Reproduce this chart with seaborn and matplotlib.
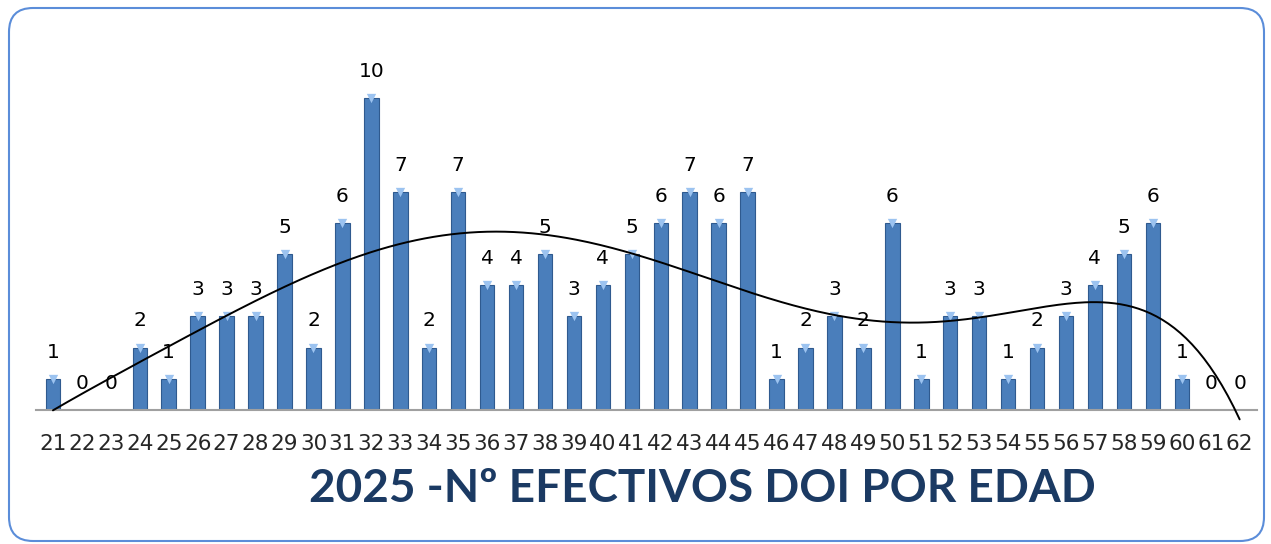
import numpy as np
import seaborn as sns
import matplotlib.pyplot as plt
from matplotlib.patches import FancyBboxPatch
from matplotlib.transforms import IdentityTransform

ages = list(range(21, 63))
efectivos = [1, 0, 0, 2, 1, 3, 3, 3, 5, 2, 6, 10, 7, 2, 7, 4, 4, 5, 3, 4, 5,
             6, 7, 6, 7, 1, 2, 3, 2, 6, 1, 3, 3, 1, 2, 3, 4, 5, 6, 1, 0, 0]
titulo = "2025 -Nº EFECTIVOS DOI POR EDAD"

sns.set_theme(style="white")
plt.rcParams['font.family'] = ['DejaVu Sans']

fig = plt.figure(figsize=(12.71, 5.44), dpi=100)
ax = fig.add_axes([0.028, 0.2463, 0.961, 0.688])

x = np.arange(len(ages))
sns.barplot(x=x, y=efectivos, color="#4A7EBB", width=0.5, saturation=1,
            edgecolor="#2F5A8F", linewidth=0.8, ax=ax)

# light cap on top of each non-empty bar
tops = [(i, v) for i, v in zip(x, efectivos) if v > 0]
ax.scatter([t[0] for t in tops], [t[1] for t in tops], marker="v", s=45,
           color="#9CC3F0", zorder=4, linewidths=0)

for i, v in enumerate(efectivos):
    ax.text(i, v + 0.55, str(v), ha="center", va="bottom", fontsize=14.5,
            color="black")

# polynomial trend line (6th order)
coef = np.polyfit(x, efectivos, 6)
xs = np.linspace(0, len(ages) - 1, 400)
ax.plot(xs, np.polyval(coef, xs), color="black", linewidth=1.4,
        clip_on=False, zorder=5)

ax.set_xlim(-0.6, len(ages) - 0.4)
ax.set_ylim(0, 12)
ax.set_xticks(x)
ax.set_xticklabels([str(a) for a in ages], fontsize=15.5)
ax.tick_params(axis="x", length=0, pad=17)
ax.set_yticks([])
for s in ["top", "right", "left"]:
    ax.spines[s].set_visible(False)
ax.spines["bottom"].set_color("#A0A0A0")
ax.spines["bottom"].set_linewidth(1.5)

fig.text(702 / 1271, 1 - 489 / 544, titulo, ha="center", va="center",
         fontsize=33, fontweight="bold", color="#1B3A63", family="Lato")

box = FancyBboxPatch((9, 3), 1255, 533,
                     boxstyle="round,pad=0,rounding_size=24",
                     transform=IdentityTransform(), fill=False,
                     edgecolor="#5B8DD9", linewidth=1.5)
fig.patches.append(box)

fig.savefig("out.png", dpi=100)
